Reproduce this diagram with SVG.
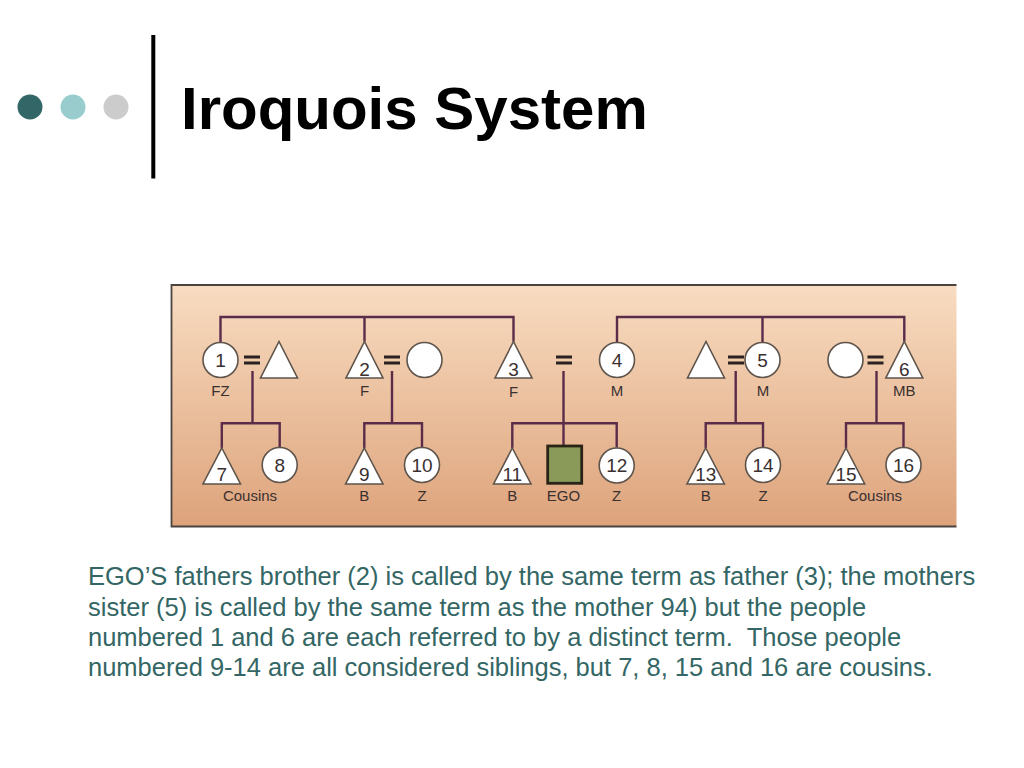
<svg xmlns="http://www.w3.org/2000/svg" width="1024" height="768" viewBox="0 0 1024 768">
<defs>
<linearGradient id="bg" x1="0" y1="0" x2="0" y2="1">
<stop offset="0" stop-color="#f8dcc1"/>
<stop offset="1" stop-color="#dda37b"/>
</linearGradient>
<style>
.ln{stroke:#5a2c4a;stroke-width:2.4;fill:none}
.sh{fill:#ffffff;stroke:#5e544c;stroke-width:1.6}
.eq{fill:#2a2220}
.num{font-family:"Liberation Sans",Arial,sans-serif;font-size:19px;fill:#3a3030;text-anchor:middle}
.lab{font-family:"Liberation Sans",Arial,sans-serif;font-size:15px;fill:#3a3030;text-anchor:middle}
.body{font-family:"Liberation Sans",Arial,sans-serif;font-size:25.5px;fill:#336664}
</style>
</defs>
<rect width="1024" height="768" fill="#ffffff"/>
<g id="header">
<circle cx="30" cy="107" r="12.5" fill="#336666"/>
<circle cx="73" cy="107" r="12.5" fill="#99cccc"/>
<circle cx="116" cy="107" r="12.5" fill="#cccccc"/>
<rect x="151.3" y="35" width="4" height="143.5" fill="#000000"/>
<text x="181" y="129" font-family="Liberation Sans,Arial,sans-serif" font-weight="bold" font-size="60" fill="#000000">Iroquois System</text>
</g>
<g id="panel">
<rect x="171.5" y="285" width="785" height="241.5" fill="url(#bg)"/>
<path d="M956.5 285 H171.5 V526.5 H956.5" fill="none" stroke="#4a4440" stroke-width="1.8"/>
</g>
<g id="connectors">
<path class="ln" d="M220.5 342.5 V317 H513.5 V341.5 M364.5 317 V341.5"/>
<path class="ln" d="M617 342.5 V317 H904.3 V341.5 M762.5 317 V342.5"/>
<path class="ln" d="M252.5 371 V423.3 M221.8 448 V423.3 H279.7 V447.5"/>
<path class="ln" d="M392 371 V423.3 M364.3 448 V423.3 H422 V447.5"/>
<path class="ln" d="M563.5 371 V446 M512.3 448 V423.3 H616.7 V447.5"/>
<path class="ln" d="M735.7 371 V423.3 M705.7 448 V423.3 H763 V447.5"/>
<path class="ln" d="M876.5 371 V423.3 M846 448 V423.3 H903.5 V447.5"/>
</g>
<g id="n1"><circle class="sh" cx="220.5" cy="360" r="17.5"/><text class="num" x="220.5" y="367">1</text><text class="lab" x="220.5" y="395.5">FZ</text></g>
<g id="eq1" class="eq"><rect x="244" y="355.5" width="16" height="3"/><rect x="244" y="361.5" width="16" height="3"/></g>
<g id="sp1"><polygon class="sh" points="279,341.5 297.5,378 260.5,378"/></g>
<g id="n2"><polygon class="sh" points="364.5,341.5 383,378 346,378"/><text class="num" x="364.5" y="376">2</text><text class="lab" x="364.5" y="395.5">F</text></g>
<g id="eq2" class="eq"><rect x="384" y="355.5" width="16" height="3"/><rect x="384" y="361.5" width="16" height="3"/></g>
<g id="sp2"><circle class="sh" cx="424.5" cy="360" r="17.5"/></g>
<g id="n3"><polygon class="sh" points="513.5,341.5 532,378 495,378"/><text class="num" x="513.5" y="376">3</text><text class="lab" x="513.5" y="396.5">F</text></g>
<g id="eq3" class="eq"><rect x="556" y="355.5" width="16" height="3"/><rect x="556" y="361.5" width="16" height="3"/></g>
<g id="n4"><circle class="sh" cx="617" cy="360" r="17.5"/><text class="num" x="617" y="367">4</text><text class="lab" x="617" y="395.5">M</text></g>
<g id="sp5"><polygon class="sh" points="706,341.5 724.5,378 687.5,378"/></g>
<g id="eq5" class="eq"><rect x="728" y="355.5" width="16" height="3"/><rect x="728" y="361.5" width="16" height="3"/></g>
<g id="n5"><circle class="sh" cx="762.5" cy="360" r="17.5"/><text class="num" x="762.5" y="367">5</text><text class="lab" x="763" y="395.5">M</text></g>
<g id="sp6"><circle class="sh" cx="845.5" cy="360" r="17.5"/></g>
<g id="eq6" class="eq"><rect x="867.5" y="355.5" width="16" height="3"/><rect x="867.5" y="361.5" width="16" height="3"/></g>
<g id="n6"><polygon class="sh" points="904.3,341.5 922.8,378 885.8,378"/><text class="num" x="904.3" y="376">6</text><text class="lab" x="904.3" y="395.5">MB</text></g>
<g id="n7"><polygon class="sh" points="221.8,448 240.5,484 203,484"/><text class="num" x="221.8" y="481">7</text></g>
<g id="n8"><circle class="sh" cx="279.7" cy="465" r="17.5"/><text class="num" x="279.7" y="471.5">8</text></g>
<text class="lab" x="250" y="501">Cousins</text>
<g id="n9"><polygon class="sh" points="364.3,448 383,484 345.6,484"/><text class="num" x="364.3" y="481">9</text><text class="lab" x="364.3" y="501">B</text></g>
<g id="n10"><circle class="sh" cx="422" cy="465" r="17.5"/><text class="num" x="422" y="472">10</text><text class="lab" x="422" y="501">Z</text></g>
<g id="n11"><polygon class="sh" points="512.3,448 531,484 493.6,484"/><text class="num" x="512.3" y="481">11</text><text class="lab" x="512.3" y="501">B</text></g>
<g id="ego"><rect x="547.7" y="446" width="34" height="37.3" fill="#8a9a58" stroke="#2a2418" stroke-width="2.8"/><text class="lab" x="563.5" y="501">EGO</text></g>
<g id="n12"><circle class="sh" cx="616.7" cy="465.5" r="17.5"/><text class="num" x="616.7" y="472">12</text><text class="lab" x="616.7" y="501">Z</text></g>
<g id="n13"><polygon class="sh" points="705.7,448 724.4,484 687,484"/><text class="num" x="705.7" y="481">13</text><text class="lab" x="705.7" y="501">B</text></g>
<g id="n14"><circle class="sh" cx="763" cy="465" r="17.5"/><text class="num" x="763" y="471.5">14</text><text class="lab" x="763" y="501">Z</text></g>
<g id="n15"><polygon class="sh" points="846,448 864.7,484 827.3,484"/><text class="num" x="846" y="481">15</text></g>
<g id="n16"><circle class="sh" cx="903.5" cy="465" r="17.5"/><text class="num" x="903.5" y="471.5">16</text></g>
<text class="lab" x="875" y="501">Cousins</text>
<g id="caption">
<text class="body" x="88" y="585">EGO’S fathers brother (2) is called by the same term as father (3); the mothers</text>
<text class="body" x="88" y="615.5">sister (5) is called by the same term as the mother 94) but the people</text>
<text class="body" x="88" y="646" xml:space="preserve">numbered 1 and 6 are each referred to by a distinct term.  Those people</text>
<text class="body" x="88" y="676">numbered 9-14 are all considered siblings, but 7, 8, 15 and 16 are cousins.</text>
</g>
</svg>
